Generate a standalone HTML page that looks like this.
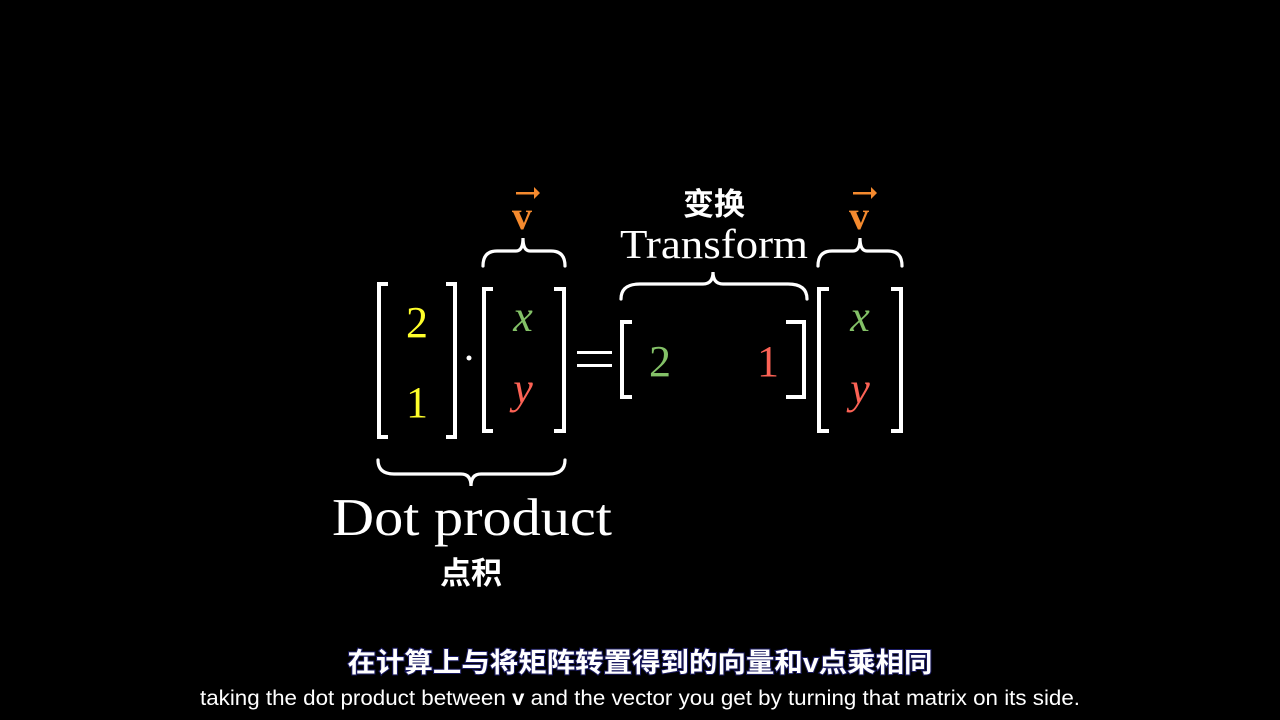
<!DOCTYPE html>
<html><head><meta charset="utf-8"><style>
html,body{margin:0;padding:0;background:#000;width:1280px;height:720px;overflow:hidden}
svg{display:block}
.serif{font-family:"Liberation Serif",serif}
.cjk{font-family:"Liberation Sans","Noto Sans CJK SC",sans-serif;font-weight:bold}
</style></head><body>
<svg width="1280" height="720" viewBox="0 0 1280 720" xmlns="http://www.w3.org/2000/svg">
<rect width="1280" height="720" fill="#000"/>
<g fill="none" stroke="#fff" stroke-width="4">
<path d="M388,284 H379 V437 H388"/>
<path d="M446,284 H455 V437 H446"/>
<path d="M493,289 H484 V431 H493"/>
<path d="M554,289 H564 V431 H554"/>
<path d="M632,322 H622 V397 H632"/>
<path d="M786,322 H804 V397 H786"/>
<path d="M829,289 H819 V431 H829"/>
<path d="M891,289 H901 V431 H891"/>
</g>
<g fill="none" stroke="#fff" stroke-width="3.2" stroke-linecap="round">
<path d="M483,266 Q483,251 497,251 L516,251 Q523,251 523,238 Q523,251 530,251 L551,251 Q565,251 565,266"/>
<path d="M818,266 Q818,251 832,251 L853,251 Q860,251 860,238 Q860,251 867,251 L888,251 Q902,251 902,266"/>
<path d="M621,299 Q621,284 640,284 L703,284 Q713,284 713,272 Q713,284 723,284 L788,284 Q807,284 807,299"/>
<path d="M378,460 Q378,474 394,474 L461,474 Q471,474 471,486 Q471,474 481,474 L549,474 Q565,474 565,460"/>
</g>
<circle cx="469" cy="358" r="2.5" fill="#fff"/>
<rect x="577" y="351" width="35" height="3" fill="#fff"/>
<rect x="577" y="364" width="35" height="3" fill="#fff"/>
<g class="serif" font-size="44" text-anchor="middle">
<text x="417" y="337" fill="#ffff2a">2</text>
<text x="417" y="417" fill="#ffff2a">1</text>
<text x="660" y="376" fill="#83c167">2</text>
<text x="768" y="376" fill="#fc6255">1</text>
<text x="523" y="331" fill="#83c167" font-style="italic">x</text>
<text x="523" y="403" fill="#fc6255" font-style="italic">y</text>
<text x="860" y="331" fill="#83c167" font-style="italic">x</text>
<text x="860" y="403" fill="#fc6255" font-style="italic">y</text>
</g>
<g fill="#f58a2e">
<text class="serif" x="522" y="229" font-size="40" font-weight="bold" text-anchor="middle">v</text>
<rect x="516" y="192" width="20" height="2.5"/>
<path d="M534,187 L540,193 L534,199 Z"/>
<text class="serif" x="859" y="229" font-size="40" font-weight="bold" text-anchor="middle">v</text>
<rect x="853" y="192" width="20" height="2.5"/>
<path d="M871,187 L877,193 L871,199 Z"/>
</g>
<text class="cjk" x="714" y="215" font-size="31" fill="#fff" text-anchor="middle">变换</text>
<text class="serif" x="714" y="258" font-size="41" fill="#fff" text-anchor="middle" textLength="188" lengthAdjust="spacingAndGlyphs">Transform</text>
<text class="serif" x="472" y="535" font-size="53" fill="#fff" text-anchor="middle" textLength="280" lengthAdjust="spacingAndGlyphs">Dot product</text>
<text class="cjk" x="471" y="584" font-size="31" fill="#fff" text-anchor="middle">点积</text>
<text class="cjk" x="640" y="672" font-size="27" fill="#fff" stroke="#1a1a60" stroke-width="2" paint-order="stroke" text-anchor="middle" textLength="585" lengthAdjust="spacingAndGlyphs">在计算上与将矩阵转置得到的向量和v点乘相同</text>
<text x="640" y="705" font-family="Liberation Sans,sans-serif" font-size="21" fill="#fff" text-anchor="middle" textLength="880" lengthAdjust="spacingAndGlyphs">taking the dot product between <tspan font-weight="bold">v</tspan> and the vector you get by turning that matrix on its side.</text>
</svg>
</body></html>
